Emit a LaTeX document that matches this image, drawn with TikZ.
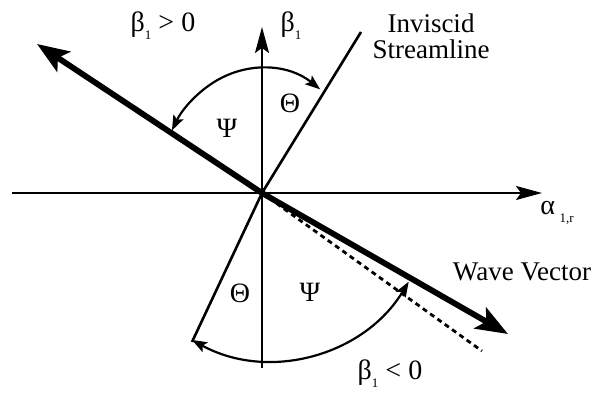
\documentclass[tikz,border=0pt]{standalone}
\usepackage{fontspec}
\setmainfont{Liberation Serif}
\usetikzlibrary{arrows.meta}
\newcommand{\lowsub}[1]{\raisebox{-0.28em}{\fontsize{13}{14}\selectfont #1}}
\begin{document}
\begin{tikzpicture}[x=1pt,y=1pt,
  axis/.style={line width=2.1pt,-{Stealth[length=26pt,width=14pt,inset=5pt]}},
  wave/.style={line width=5.8pt,{Stealth[length=32pt,width=24pt,inset=7pt]}-{Stealth[length=32pt,width=24pt,inset=7pt]}},
  stream/.style={line width=2.6pt},
  angarc/.style={line width=2.2pt,{Stealth[length=15pt,width=11pt,inset=3pt]}-{Stealth[length=15pt,width=11pt,inset=3pt]}},
  dashline/.style={line width=2.8pt,dash pattern=on 5pt off 4pt},
  lbl/.style={inner sep=0pt,font=\fontsize{28}{28}\selectfont},
  greek/.style={inner sep=0pt,font=\fontsize{28}{30}\selectfont}]
\useasboundingbox (0,0) rectangle (598,393);
% key points
\coordinate (O) at (262,200);
\coordinate (HL) at (12,200);
\coordinate (HR) at (542,200);
\coordinate (VB) at (262,25);
\coordinate (VT) at (262,366);
\coordinate (WL) at (37,349);
\coordinate (WR) at (508,59);
\coordinate (DE) at (482,42);
\coordinate (ST) at (361,361);
\coordinate (SB) at (192,51);
\coordinate (C2) at (270,195);
% axes
\draw[axis] (HL) -- (HR);
\draw[axis] (VB) -- (VT);
% inviscid streamline
\draw[stream] (SB) -- (O) -- (ST);
% dashed line
\draw[dashline] (O) -- (DE);
% wave vector
\draw[wave] (WL) -- (O) -- (WR);
% angle arcs
\draw[angarc] ([shift={(56:104 and 125)}]O) arc[start angle=56,end angle=150,x radius=104,y radius=125];
\draw[angarc] ([shift={(241.2:162)}]C2) arc[start angle=241.2,end angle=328.9,radius=162];
% labels
\node[lbl] (bpos) at (163,367) {β\lowsub{1} > 0};
\node[lbl] (baxis) at (291,367) {β\lowsub{1}};
\node[lbl,align=center,font=\fontsize{27}{26}\selectfont] (inv) at (431,357) {Inviscid\\Streamline};
\node[greek] (thu) at (290,290) {Θ};
\node[greek] (psu) at (227,265) {Ψ};
\node[lbl] (alpha) at (557,180) {α\,\lowsub{1,r}};
\node[lbl,font=\fontsize{27}{28}\selectfont] (wv) at (522,121) {Wave Vector};
\node[greek] (thl) at (240,100) {Θ};
\node[greek] (psl) at (310,101) {Ψ};
\node[lbl] (bneg) at (390,19) {β\lowsub{1} < 0};
\end{tikzpicture}
\end{document}
